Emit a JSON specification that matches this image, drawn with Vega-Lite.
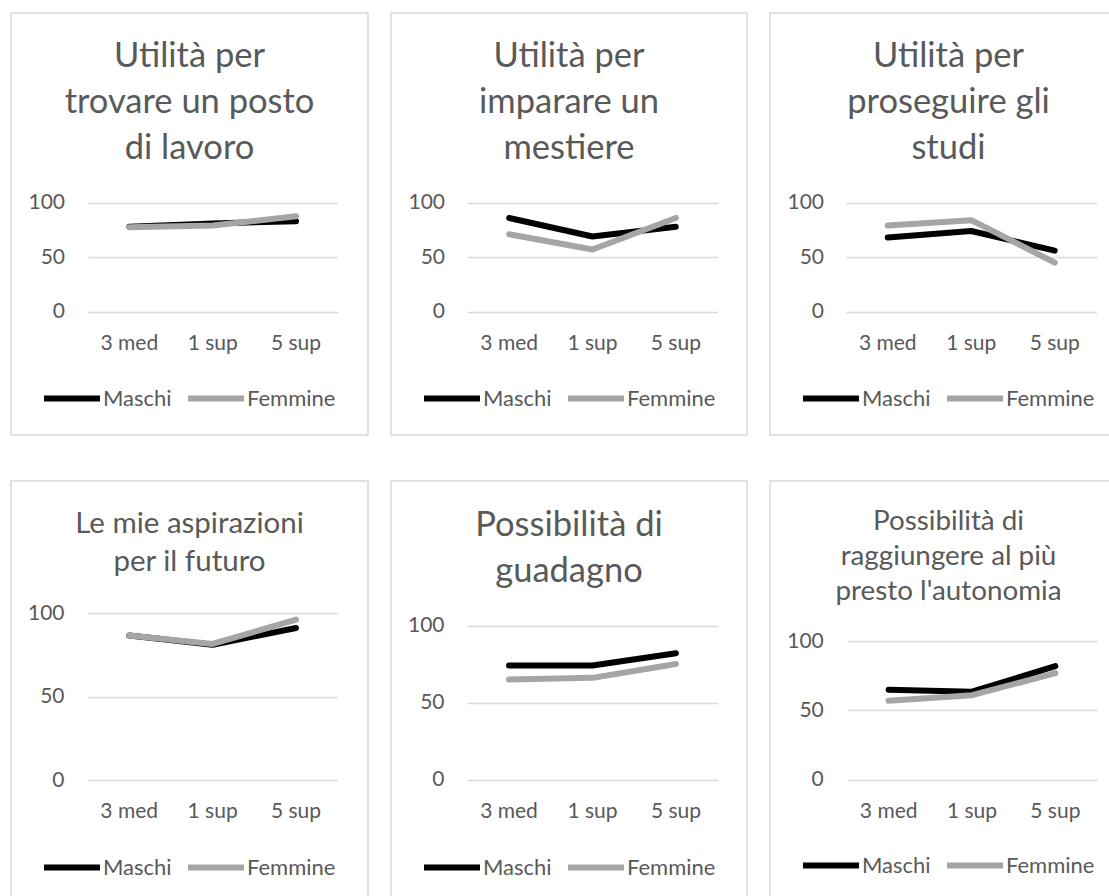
{
  "$schema": "https://vega.github.io/schema/vega-lite/v6.json",
  "padding": {"left": 10, "top": 12, "right": 0, "bottom": 0},
  "background": "white",
  "config": {
    "view": {"stroke": "#D9D9D9", "strokeWidth": 1.5},
    "font": "Lato",
    "title": {"font": "Lato", "fontWeight": "normal", "color": "#595959", "anchor": "middle", "frame": "group", "baseline": "top"},
    "axis": {"labelFont": "Lato", "labelFontSize": 21, "labelColor": "#595959", "domain": false, "ticks": false, "tickSize": 0, "title": null},
    "legend": {"labelFont": "Lato", "labelFontSize": 22, "labelColor": "#595959"}
  },
  "data": {"values": [
    {"chart": 1, "sesso": "Maschi", "liv": "3 med", "val": 78},
    {"chart": 1, "sesso": "Maschi", "liv": "1 sup", "val": 81},
    {"chart": 1, "sesso": "Maschi", "liv": "5 sup", "val": 83},
    {"chart": 1, "sesso": "Femmine", "liv": "3 med", "val": 77.5},
    {"chart": 1, "sesso": "Femmine", "liv": "1 sup", "val": 79},
    {"chart": 1, "sesso": "Femmine", "liv": "5 sup", "val": 87.5},
    {"chart": 2, "sesso": "Maschi", "liv": "3 med", "val": 86},
    {"chart": 2, "sesso": "Maschi", "liv": "1 sup", "val": 69},
    {"chart": 2, "sesso": "Maschi", "liv": "5 sup", "val": 78},
    {"chart": 2, "sesso": "Femmine", "liv": "3 med", "val": 71},
    {"chart": 2, "sesso": "Femmine", "liv": "1 sup", "val": 57},
    {"chart": 2, "sesso": "Femmine", "liv": "5 sup", "val": 86},
    {"chart": 3, "sesso": "Maschi", "liv": "3 med", "val": 68},
    {"chart": 3, "sesso": "Maschi", "liv": "1 sup", "val": 74},
    {"chart": 3, "sesso": "Maschi", "liv": "5 sup", "val": 56},
    {"chart": 3, "sesso": "Femmine", "liv": "3 med", "val": 79},
    {"chart": 3, "sesso": "Femmine", "liv": "1 sup", "val": 84},
    {"chart": 3, "sesso": "Femmine", "liv": "5 sup", "val": 45},
    {"chart": 4, "sesso": "Maschi", "liv": "3 med", "val": 86.5},
    {"chart": 4, "sesso": "Maschi", "liv": "1 sup", "val": 81},
    {"chart": 4, "sesso": "Maschi", "liv": "5 sup", "val": 91},
    {"chart": 4, "sesso": "Femmine", "liv": "3 med", "val": 86.5},
    {"chart": 4, "sesso": "Femmine", "liv": "1 sup", "val": 81.5},
    {"chart": 4, "sesso": "Femmine", "liv": "5 sup", "val": 96},
    {"chart": 5, "sesso": "Maschi", "liv": "3 med", "val": 74},
    {"chart": 5, "sesso": "Maschi", "liv": "1 sup", "val": 74},
    {"chart": 5, "sesso": "Maschi", "liv": "5 sup", "val": 82},
    {"chart": 5, "sesso": "Femmine", "liv": "3 med", "val": 65},
    {"chart": 5, "sesso": "Femmine", "liv": "1 sup", "val": 66},
    {"chart": 5, "sesso": "Femmine", "liv": "5 sup", "val": 75},
    {"chart": 6, "sesso": "Maschi", "liv": "3 med", "val": 65},
    {"chart": 6, "sesso": "Maschi", "liv": "1 sup", "val": 63.5},
    {"chart": 6, "sesso": "Maschi", "liv": "5 sup", "val": 82},
    {"chart": 6, "sesso": "Femmine", "liv": "3 med", "val": 57},
    {"chart": 6, "sesso": "Femmine", "liv": "1 sup", "val": 61},
    {"chart": 6, "sesso": "Femmine", "liv": "5 sup", "val": 77}
  ]},
  "spacing": 44,
  "resolve": {"scale": {"color": "independent", "x": "independent", "y": "independent"}, "legend": {"color": "independent"}},
  "vconcat": [
    {
      "spacing": 21,
      "resolve": {"scale": {"color": "independent", "x": "independent", "y": "independent"}, "legend": {"color": "independent"}},
      "hconcat": [
        {
          "width": 357, "height": 422,
          "title": {"text": ["Utilità per", "trovare un posto", "di lavoro"], "fontSize": 34.5, "lineHeight": 46, "offset": -153},
          "transform": [{"filter": "datum.chart === 1"}],
          "mark": {"type": "line", "strokeWidth": 6, "strokeCap": "round", "strokeJoin": "round"},
          "encoding": {
            "x": {"field": "liv", "type": "nominal", "sort": ["3 med", "1 sup", "5 sup"], "scale": {"type": "band", "range": [76.7, 326.7], "paddingInner": 0, "paddingOuter": 0}, "axis": {"orient": "bottom", "offset": -85.5, "labelBaseline": "alphabetic", "labelPadding": 0, "labelAngle": 0, "grid": false}},
            "y": {"field": "val", "type": "quantitative", "scale": {"domain": [0, 100], "range": [298.7, 189.7], "nice": false}, "axis": {"values": [0, 50, 100], "offset": -53.5, "labelPadding": 0, "grid": true, "gridColor": "#D9D9D9", "gridWidth": 1.5}},
            "color": {"field": "sesso", "type": "nominal", "scale": {"domain": ["Maschi", "Femmine"], "range": ["#000000", "#A5A5A5"]}, "legend": {"title": null, "orient": "none", "legendX": 30, "legendY": 354.5, "direction": "horizontal", "symbolType": "stroke", "symbolSize": 3136, "symbolStrokeWidth": 6, "labelOffset": 0, "columnPadding": 4, "padding": 0}}
          }
        },
        {
          "width": 356, "height": 422,
          "title": {"text": ["Utilità per", "imparare un", "mestiere"], "fontSize": 34.5, "lineHeight": 46, "offset": -153},
          "transform": [{"filter": "datum.chart === 2"}],
          "mark": {"type": "line", "strokeWidth": 6, "strokeCap": "round", "strokeJoin": "round"},
          "encoding": {
            "x": {"field": "liv", "type": "nominal", "sort": ["3 med", "1 sup", "5 sup"], "scale": {"type": "band", "range": [76.5, 326.5], "paddingInner": 0, "paddingOuter": 0}, "axis": {"orient": "bottom", "offset": -85.5, "labelBaseline": "alphabetic", "labelPadding": 0, "labelAngle": 0, "grid": false}},
            "y": {"field": "val", "type": "quantitative", "scale": {"domain": [0, 100], "range": [298.7, 189.7], "nice": false}, "axis": {"values": [0, 50, 100], "offset": -53.5, "labelPadding": 0, "grid": true, "gridColor": "#D9D9D9", "gridWidth": 1.5}},
            "color": {"field": "sesso", "type": "nominal", "scale": {"domain": ["Maschi", "Femmine"], "range": ["#000000", "#A5A5A5"]}, "legend": {"title": null, "orient": "none", "legendX": 30, "legendY": 354.5, "direction": "horizontal", "symbolType": "stroke", "symbolSize": 3136, "symbolStrokeWidth": 6, "labelOffset": 0, "columnPadding": 4, "padding": 0}}
          }
        },
        {
          "width": 357, "height": 422,
          "title": {"text": ["Utilità per", "proseguire gli", "studi"], "fontSize": 34.5, "lineHeight": 46, "offset": -153},
          "transform": [{"filter": "datum.chart === 3"}],
          "mark": {"type": "line", "strokeWidth": 6, "strokeCap": "round", "strokeJoin": "round"},
          "encoding": {
            "x": {"field": "liv", "type": "nominal", "sort": ["3 med", "1 sup", "5 sup"], "scale": {"type": "band", "range": [76, 326.5], "paddingInner": 0, "paddingOuter": 0}, "axis": {"orient": "bottom", "offset": -85.5, "labelBaseline": "alphabetic", "labelPadding": 0, "labelAngle": 0, "grid": false}},
            "y": {"field": "val", "type": "quantitative", "scale": {"domain": [0, 100], "range": [298.7, 189.7], "nice": false}, "axis": {"values": [0, 50, 100], "offset": -53.5, "labelPadding": 0, "grid": true, "gridColor": "#D9D9D9", "gridWidth": 1.5}},
            "color": {"field": "sesso", "type": "nominal", "scale": {"domain": ["Maschi", "Femmine"], "range": ["#000000", "#A5A5A5"]}, "legend": {"title": null, "orient": "none", "legendX": 30, "legendY": 354.5, "direction": "horizontal", "symbolType": "stroke", "symbolSize": 3136, "symbolStrokeWidth": 6, "labelOffset": 0, "columnPadding": 4, "padding": 0}}
          }
        }
      ]
    },
    {
      "spacing": 21,
      "resolve": {"scale": {"color": "independent", "x": "independent", "y": "independent"}, "legend": {"color": "independent"}},
      "hconcat": [
        {
          "width": 357, "height": 422,
          "title": {"text": ["Le mie aspirazioni", "per il futuro"], "fontSize": 29.5, "lineHeight": 38, "offset": -96},
          "transform": [{"filter": "datum.chart === 4"}],
          "mark": {"type": "line", "strokeWidth": 6, "strokeCap": "round", "strokeJoin": "round"},
          "encoding": {
            "x": {"field": "liv", "type": "nominal", "sort": ["3 med", "1 sup", "5 sup"], "scale": {"type": "band", "range": [76.5, 326.7], "paddingInner": 0, "paddingOuter": 0}, "axis": {"orient": "bottom", "offset": -85.5, "labelBaseline": "alphabetic", "labelPadding": 0, "labelAngle": 0, "grid": false}},
            "y": {"field": "val", "type": "quantitative", "scale": {"domain": [0, 100], "range": [299, 132], "nice": false}, "axis": {"values": [0, 50, 100], "offset": -53, "labelPadding": 0, "grid": true, "gridColor": "#D9D9D9", "gridWidth": 1.5}},
            "color": {"field": "sesso", "type": "nominal", "scale": {"domain": ["Maschi", "Femmine"], "range": ["#000000", "#A5A5A5"]}, "legend": {"title": null, "orient": "none", "legendX": 30, "legendY": 355.5, "direction": "horizontal", "symbolType": "stroke", "symbolSize": 3136, "symbolStrokeWidth": 6, "labelOffset": 0, "columnPadding": 4, "padding": 0}}
          }
        },
        {
          "width": 356, "height": 422,
          "title": {"text": ["Possibilità di", "guadagno"], "fontSize": 34.5, "lineHeight": 46, "offset": -108.5},
          "transform": [{"filter": "datum.chart === 5"}],
          "mark": {"type": "line", "strokeWidth": 6, "strokeCap": "round", "strokeJoin": "round"},
          "encoding": {
            "x": {"field": "liv", "type": "nominal", "sort": ["3 med", "1 sup", "5 sup"], "scale": {"type": "band", "range": [76.3, 326.7], "paddingInner": 0, "paddingOuter": 0}, "axis": {"orient": "bottom", "offset": -85.5, "labelBaseline": "alphabetic", "labelPadding": 0, "labelAngle": 0, "grid": false}},
            "y": {"field": "val", "type": "quantitative", "scale": {"domain": [0, 100], "range": [298.5, 144.5], "nice": false}, "axis": {"values": [0, 50, 100], "offset": -53, "labelPadding": 0, "grid": true, "gridColor": "#D9D9D9", "gridWidth": 1.5}},
            "color": {"field": "sesso", "type": "nominal", "scale": {"domain": ["Maschi", "Femmine"], "range": ["#000000", "#A5A5A5"]}, "legend": {"title": null, "orient": "none", "legendX": 30, "legendY": 355.5, "direction": "horizontal", "symbolType": "stroke", "symbolSize": 3136, "symbolStrokeWidth": 6, "labelOffset": 0, "columnPadding": 4, "padding": 0}}
          }
        },
        {
          "width": 357, "height": 422,
          "title": {"text": ["Possibilità di", "raggiungere al più", "presto l'autonomia"], "fontSize": 27.8, "lineHeight": 35, "offset": -124.5},
          "transform": [{"filter": "datum.chart === 6"}],
          "mark": {"type": "line", "strokeWidth": 6, "strokeCap": "round", "strokeJoin": "round"},
          "encoding": {
            "x": {"field": "liv", "type": "nominal", "sort": ["3 med", "1 sup", "5 sup"], "scale": {"type": "band", "range": [77, 327], "paddingInner": 0, "paddingOuter": 0}, "axis": {"orient": "bottom", "offset": -85.5, "labelBaseline": "alphabetic", "labelPadding": 0, "labelAngle": 0, "grid": false}},
            "y": {"field": "val", "type": "quantitative", "scale": {"domain": [0, 100], "range": [298.5, 160.3], "nice": false}, "axis": {"values": [0, 50, 100], "offset": -53.3, "labelPadding": 0, "grid": true, "gridColor": "#D9D9D9", "gridWidth": 1.5}},
            "color": {"field": "sesso", "type": "nominal", "scale": {"domain": ["Maschi", "Femmine"], "range": ["#000000", "#A5A5A5"]}, "legend": {"title": null, "orient": "none", "legendX": 30, "legendY": 353.5, "direction": "horizontal", "symbolType": "stroke", "symbolSize": 3136, "symbolStrokeWidth": 6, "labelOffset": 0, "columnPadding": 4, "padding": 0}}
          }
        }
      ]
    }
  ]
}
